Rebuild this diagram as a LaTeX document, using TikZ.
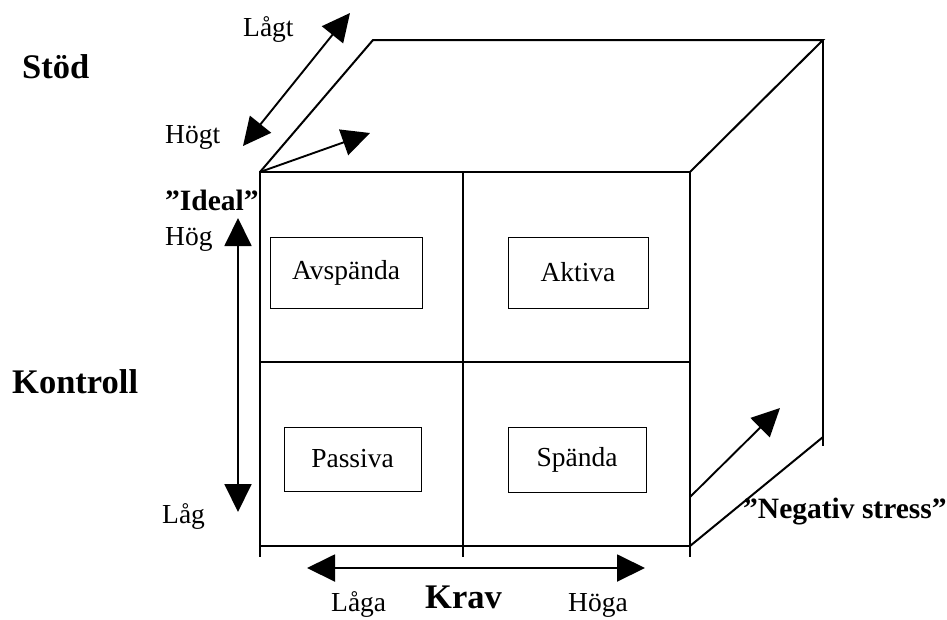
\documentclass[tikz,border=0pt]{standalone}
\usepackage{fontspec}
\setmainfont{Liberation Serif}
\usetikzlibrary{arrows.meta}

\begin{document}
\begin{tikzpicture}[x=1pt,y=-1pt,
  edge/.style={line width=2pt},
  divider/.style={line width=1.5pt},
  quad/.style={draw, line width=1pt, inner sep=0pt,
    font=\fontsize{27.5}{30}\selectfont},
  tip/.tip={Triangle[length=28pt,width=27pt]},
  axis/.style={line width=1.9pt, -tip},
  biaxis/.style={line width=1.9pt, tip-tip},
  lbl/.style={font=\fontsize{27.5}{30}\selectfont, inner sep=0pt, anchor=base west},
  head/.style={font=\bfseries\fontsize{34.5}{38}\selectfont, inner sep=0pt, anchor=base west},
  subhead/.style={font=\bfseries\fontsize{29.5}{32}\selectfont, inner sep=0pt, anchor=base west}
]
\useasboundingbox (0,0) rectangle (947,619);

% cube corners
\coordinate (ftl) at (260,172);
\coordinate (ftr) at (690,172);
\coordinate (fbl) at (260,546);
\coordinate (fbr) at (690,546);
\coordinate (btl) at (373,40);
\coordinate (btr) at (823,40);
\coordinate (bbr) at (823,437);
\coordinate (bbrx) at (823,446);
\coordinate (mt) at (463,172);
\coordinate (mb) at (463,546);
\coordinate (ml) at (260,362);
\coordinate (mr) at (690,362);
\coordinate (flx) at (260,557);
\coordinate (fmx) at (463,557);
\coordinate (frx) at (690,557);

% front face and its quadrants
\draw[edge] (ftl) -- (ftr) -- (fbr) -- (fbl) -- cycle;
\draw[divider] (mt) -- (mb);
\draw[divider] (ml) -- (mr);
\draw[edge] (fbl) -- (flx);
\draw[divider] (mb) -- (fmx);
\draw[edge] (fbr) -- (frx);

% top and side faces
\draw[edge] (ftl) -- (btl) -- (btr) -- (ftr);
\draw[edge] (btr) -- (bbrx);
\draw[edge] (fbr) -- (bbr);

% quadrant labels
\node[quad, minimum width=152pt, minimum height=71pt] (avsp) at (346,272.5) {Avspända};
\node[quad, minimum width=140pt, minimum height=71pt] (akt)  at (578,272.5) {Aktiva};
\node[quad, minimum width=137pt, minimum height=64pt] (pass) at (352.5,459) {Passiva};
\node[quad, minimum width=138pt, minimum height=65pt] (spa)  at (577,459.5) {Spända};

% axis arrows
\coordinate (stodlo) at (243,146);
\coordinate (stodhi) at (350,13);
\draw[biaxis] (stodlo) -- (stodhi);
\coordinate (idealtip) at (370,133);
\draw[axis] (ftl) -- (idealtip);
\coordinate (konhi) at (238,218);
\coordinate (konlo) at (238,512);
\draw[biaxis] (konlo) -- (konhi);
\coordinate (kravlo) at (307,568);
\coordinate (kravhi) at (645,568);
\draw[biaxis] (kravlo) -- (kravhi);
\coordinate (negfoot) at (690,497);
\coordinate (negtip) at (780,408);
\draw[axis] (negfoot) -- (negtip);

% axis texts
\node[head] (stod) at (22,78) {Stöd};
\node[lbl] (lagt) at (243,36) {Lågt};
\node[lbl] (hogt) at (165,143) {Högt};
\node[subhead] (ideal) at (165,210) {”Ideal”};
\node[lbl] (hog) at (165,245) {Hög};
\node[head] (kontroll) at (12,393) {Kontroll};
\node[lbl] (lag) at (162,523) {Låg};
\node[lbl] (laga) at (331,611) {Låga};
\node[head] (krav) at (425,608) {Krav};
\node[lbl] (hoga) at (568,611) {Höga};
\node[subhead] (neg) at (743,518) {”Negativ stress”};
\end{tikzpicture}
\end{document}
